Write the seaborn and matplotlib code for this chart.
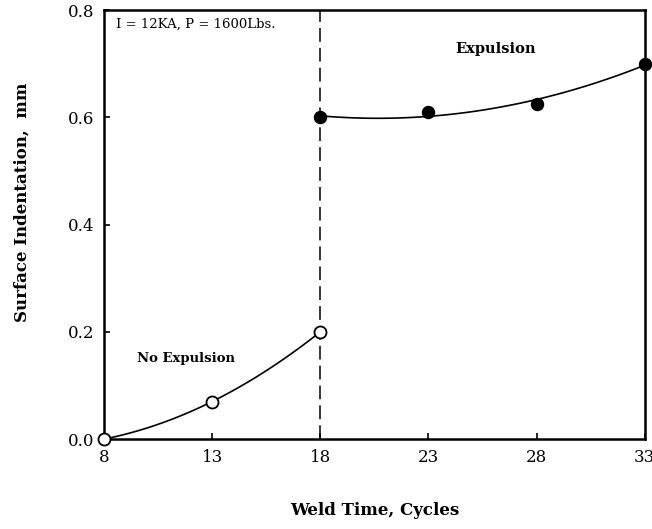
import numpy as np
import pandas as pd
import matplotlib
matplotlib.use("Agg")
import matplotlib.pyplot as plt
import seaborn as sns

# Data
no_exp_time = [8, 13, 18]
no_exp_indent = [0.0, 0.07, 0.2]
exp_time = [18, 23, 28, 33]
exp_indent = [0.60, 0.61, 0.625, 0.70]
x_ticks = [8, 13, 18, 23, 28, 33]
y_ticks = [0.0, 0.2, 0.4, 0.6, 0.8]

sns.set_style("ticks")
plt.rcParams['font.family'] = ['DejaVu Serif']
plt.rcParams['text.color'] = 'black'
plt.rcParams['axes.labelcolor'] = 'black'

fig = plt.figure(figsize=(6.52, 5.29), dpi=100)
ax = fig.add_axes([0.1595, 0.170, 0.8295, 0.811])

df_no = pd.DataFrame({"t": no_exp_time, "d": no_exp_indent})
df_ex = pd.DataFrame({"t": exp_time, "d": exp_indent})

# fitted curves
sns.regplot(data=df_no, x="t", y="d", order=2, ci=None, scatter=False,
            truncate=True, line_kws=dict(color="black", lw=1.2), ax=ax)
sns.regplot(data=df_ex, x="t", y="d", order=2, ci=None, scatter=False,
            truncate=True, line_kws=dict(color="black", lw=1.2), ax=ax)

# points
sns.scatterplot(data=df_no, x="t", y="d", marker="o", s=75, facecolor="white",
                edgecolor="black", linewidth=1.3, zorder=5, clip_on=False, ax=ax)
sns.scatterplot(data=df_ex, x="t", y="d", marker="o", s=75, color="black",
                edgecolor="black", linewidth=1.0, zorder=5, clip_on=False, ax=ax)

ax.axvline(18, color="black", lw=1.1, ls=(0, (9, 4)))

ax.set_xlim(8, 33)
ax.set_ylim(0, 0.8)
ax.set_xticks(x_ticks)
ax.set_yticks(y_ticks)
ax.set_xticklabels([str(v) for v in x_ticks])
ax.set_yticklabels([f"{v:.1f}" for v in y_ticks])
ax.tick_params(direction="in", length=4, width=1.2, labelsize=12, pad=7,
               colors="black", labelcolor="black")

for s in ax.spines.values():
    s.set_visible(True)
    s.set_linewidth(1.8)
    s.set_color("black")

ax.set_xlabel("Weld Time, Cycles", fontsize=12, fontweight="bold", color="black")
ax.set_ylabel("Surface Indentation,  mm", fontsize=12, fontweight="bold", color="black")
ax.xaxis.set_label_coords(0.5, -0.147)
ax.yaxis.set_label_coords(-0.136, 0.552)

ax.text(8.55, 0.785, "I = 12KA, P = 1600Lbs.", fontsize=9.5, va="top", ha="left", color="black")
ax.text(26.1, 0.728, "Expulsion", fontsize=10.5, fontweight="bold", ha="center", va="center", color="black")
ax.text(11.8, 0.15, "No Expulsion", fontsize=9.5, fontweight="bold", ha="center", va="center", color="black")

fig.savefig("out.png", dpi=100)
